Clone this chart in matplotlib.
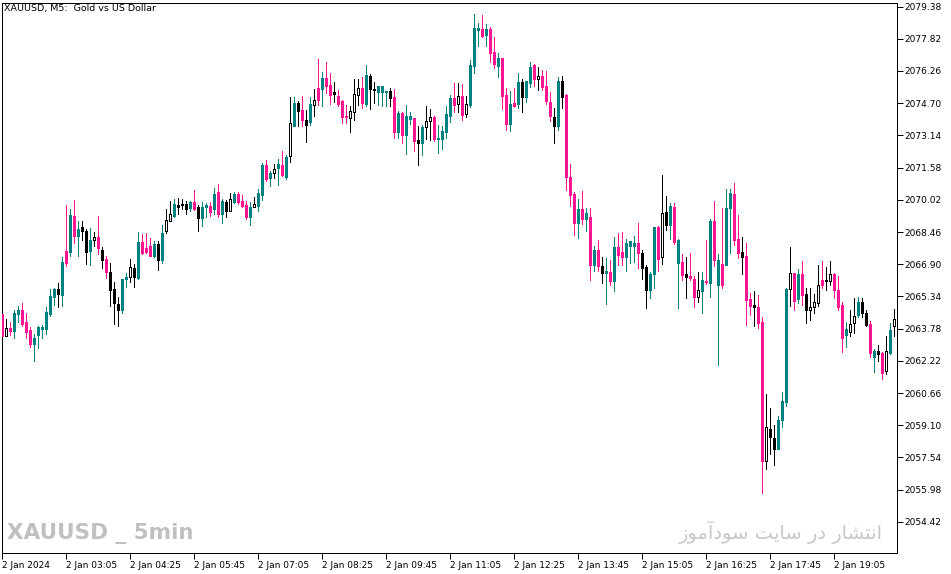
import numpy as np
import matplotlib
matplotlib.use("Agg")
import matplotlib.pyplot as plt

# XAUUSD M5, 2 Jan 2024
opens = [
    2064.49, 2063.40, 2063.83, 2063.69, 2064.49, 2064.66, 2064.11, 2063.72, 2063.04, 2063.45,
    2063.88, 2063.77, 2064.49, 2065.33, 2065.72, 2065.43, 2066.98, 2067.47, 2069.24, 2068.27,
    2068.71, 2068.51, 2067.55, 2068.05, 2068.22, 2067.59, 2067.14, 2066.53, 2065.71, 2064.98,
    2064.66, 2066.16, 2066.27, 2066.72, 2066.24, 2067.98, 2067.47, 2067.79, 2067.32, 2067.88,
    2067.11, 2068.53, 2068.97, 2069.24, 2069.77, 2069.84, 2069.80, 2069.64, 2069.92, 2069.69,
    2069.16, 2069.66, 2069.72, 2069.55, 2070.40, 2069.35, 2069.92, 2069.50, 2069.93, 2070.30,
    2069.97, 2069.76, 2069.21, 2069.69, 2069.72, 2070.27, 2071.71, 2071.06, 2071.34, 2071.56,
    2071.71, 2071.11, 2072.15, 2073.60, 2074.73, 2074.37, 2073.89, 2073.81, 2074.60, 2074.86,
    2075.39, 2075.92, 2075.58, 2075.25, 2075.05, 2074.81, 2074.08, 2074.00, 2074.29, 2075.08,
    2075.44, 2074.68, 2076.02, 2075.39, 2075.26, 2075.26, 2075.26, 2075.28, 2074.99, 2073.28,
    2074.20, 2073.18, 2073.95, 2073.99, 2072.92, 2072.76, 2073.53, 2073.82, 2074.03, 2072.94,
    2072.95, 2073.32, 2074.10, 2074.94, 2074.65, 2075.05, 2074.16, 2074.62, 2076.50, 2078.26,
    2078.30, 2078.01, 2078.30, 2077.18, 2076.52, 2076.89, 2075.10, 2073.71, 2074.71, 2074.68,
    2075.71, 2075.02, 2075.70, 2076.55, 2075.89, 2076.02, 2075.54, 2074.76, 2074.03, 2073.57,
    2075.78, 2075.08, 2071.13, 2070.31, 2068.92, 2069.58, 2069.11, 2069.19, 2066.88, 2067.59,
    2066.82, 2066.49, 2066.53, 2066.11, 2067.75, 2067.48, 2067.25, 2067.80, 2067.80, 2067.93,
    2067.45, 2066.77, 2065.67, 2066.45, 2068.71, 2067.24, 2069.43, 2068.80, 2069.69, 2068.05,
    2067.01, 2066.43, 2066.33, 2066.19, 2065.33, 2065.61, 2066.11, 2066.01, 2069.01, 2067.11,
    2065.87, 2066.87, 2069.61, 2070.31, 2068.13, 2067.48, 2067.32, 2065.20, 2064.91, 2064.83,
    2064.11, 2057.39, 2058.91, 2058.47, 2057.97, 2059.36, 2060.25, 2065.69, 2066.46, 2065.22,
    2066.43, 2065.46, 2064.66, 2064.82, 2065.04, 2065.88, 2066.14, 2066.11, 2066.43, 2065.66,
    2064.93, 2063.48, 2063.64, 2064.06, 2064.45, 2065.07, 2064.56, 2064.01, 2062.43, 2062.69,
    2062.59, 2061.75, 2062.62, 2063.90,
]
highs = [
    2064.56, 2064.24, 2064.11, 2064.66, 2064.88, 2065.04, 2064.56, 2063.88, 2063.53, 2063.93,
    2063.96, 2064.82, 2065.71, 2065.75, 2066.00, 2067.27, 2069.77, 2069.56, 2070.02, 2068.98,
    2068.97, 2068.61, 2068.63, 2068.47, 2069.24, 2067.74, 2067.29, 2066.95, 2066.03, 2065.33,
    2066.19, 2066.46, 2067.16, 2066.93, 2068.47, 2068.35, 2068.39, 2068.19, 2068.03, 2068.04,
    2068.80, 2069.58, 2069.97, 2070.06, 2070.10, 2070.05, 2069.97, 2069.98, 2070.50, 2069.77,
    2069.89, 2069.85, 2069.90, 2070.60, 2070.79, 2070.06, 2070.01, 2070.34, 2070.40, 2070.40,
    2070.24, 2069.97, 2069.93, 2070.14, 2070.56, 2071.82, 2071.95, 2071.42, 2071.73, 2071.98,
    2072.36, 2072.18, 2075.02, 2074.99, 2074.81, 2075.05, 2074.37, 2075.00, 2075.39, 2076.84,
    2076.23, 2076.68, 2076.15, 2075.73, 2075.33, 2074.86, 2074.62, 2074.55, 2075.87, 2075.87,
    2075.96, 2076.55, 2076.12, 2075.71, 2075.54, 2075.54, 2075.29, 2075.44, 2075.39, 2074.33,
    2074.29, 2074.62, 2074.28, 2074.00, 2073.60, 2073.62, 2074.54, 2074.41, 2074.08, 2073.63,
    2073.60, 2074.55, 2075.10, 2075.66, 2075.66, 2075.62, 2075.05, 2076.79, 2079.02, 2078.57,
    2078.97, 2078.54, 2078.41, 2077.91, 2077.12, 2076.89, 2075.42, 2075.29, 2075.42, 2076.15,
    2075.87, 2075.78, 2076.71, 2076.60, 2076.47, 2076.31, 2076.26, 2075.23, 2074.45, 2075.97,
    2076.02, 2075.12, 2071.76, 2070.39, 2070.06, 2070.45, 2069.63, 2069.60, 2067.77, 2068.08,
    2067.25, 2067.21, 2067.11, 2068.24, 2068.40, 2068.46, 2068.13, 2068.03, 2068.27, 2068.90,
    2067.59, 2066.87, 2066.54, 2068.72, 2068.75, 2071.22, 2070.21, 2069.85, 2069.85, 2068.13,
    2067.40, 2067.27, 2067.45, 2066.35, 2066.54, 2066.54, 2068.09, 2069.08, 2069.97, 2067.40,
    2069.64, 2070.55, 2070.55, 2070.85, 2069.29, 2068.24, 2067.92, 2065.49, 2065.61, 2065.41,
    2064.33, 2060.62, 2059.94, 2059.12, 2059.55, 2060.72, 2065.77, 2067.75, 2066.46, 2066.66,
    2067.06, 2065.74, 2065.74, 2065.45, 2066.87, 2067.06, 2066.75, 2067.06, 2066.46, 2066.35,
    2065.09, 2064.12, 2064.69, 2065.27, 2065.33, 2065.24, 2064.69, 2064.17, 2062.77, 2062.98,
    2062.65, 2063.43, 2064.04, 2064.74,
]
lows = [
    2063.36, 2063.40, 2063.48, 2063.35, 2064.08, 2063.93, 2063.32, 2062.91, 2062.19, 2062.82,
    2063.32, 2063.53, 2064.37, 2064.93, 2064.85, 2064.90, 2066.79, 2067.30, 2067.92, 2067.32,
    2068.08, 2066.92, 2066.87, 2067.76, 2067.40, 2066.74, 2066.25, 2064.90, 2064.01, 2063.93,
    2064.56, 2065.80, 2066.03, 2065.80, 2066.16, 2067.38, 2067.43, 2067.32, 2067.27, 2066.62,
    2066.95, 2068.40, 2068.97, 2069.21, 2069.32, 2069.58, 2069.34, 2069.50, 2069.53, 2068.53,
    2068.77, 2069.21, 2069.24, 2069.34, 2069.21, 2068.88, 2069.21, 2069.50, 2069.85, 2069.82,
    2069.66, 2069.11, 2068.80, 2069.69, 2069.50, 2070.01, 2070.95, 2070.71, 2071.08, 2070.76,
    2071.19, 2071.02, 2071.87, 2073.57, 2073.60, 2073.60, 2072.84, 2073.62, 2074.10, 2074.62,
    2074.54, 2075.18, 2074.66, 2074.74, 2074.54, 2073.73, 2073.76, 2073.28, 2073.89, 2074.62,
    2074.45, 2074.54, 2074.42, 2074.73, 2074.62, 2074.58, 2074.58, 2074.57, 2073.03, 2073.03,
    2072.79, 2072.23, 2073.68, 2072.36, 2071.71, 2072.19, 2072.97, 2072.92, 2072.89, 2072.29,
    2072.48, 2073.03, 2073.81, 2074.29, 2074.29, 2073.89, 2074.05, 2074.53, 2076.18, 2077.49,
    2077.92, 2077.49, 2076.67, 2076.42, 2075.99, 2074.42, 2073.40, 2073.36, 2074.49, 2074.45,
    2074.29, 2074.74, 2075.46, 2075.55, 2075.33, 2075.36, 2074.65, 2073.82, 2072.76, 2073.40,
    2074.47, 2070.47, 2069.72, 2068.32, 2068.19, 2068.85, 2068.51, 2066.14, 2066.59, 2066.59,
    2065.99, 2064.96, 2065.90, 2065.58, 2066.87, 2066.87, 2066.59, 2066.95, 2067.03, 2066.71,
    2066.16, 2064.80, 2065.28, 2065.74, 2066.59, 2066.90, 2068.56, 2068.13, 2067.88, 2064.80,
    2066.14, 2065.28, 2066.14, 2064.85, 2065.09, 2064.56, 2065.93, 2065.30, 2066.79, 2062.02,
    2065.77, 2066.87, 2067.43, 2067.83, 2067.19, 2066.43, 2063.95, 2064.45, 2063.93, 2063.83,
    2055.84, 2057.00, 2057.71, 2057.20, 2057.97, 2059.04, 2060.01, 2064.90, 2064.69, 2065.04,
    2064.93, 2064.03, 2064.20, 2064.56, 2064.88, 2065.77, 2065.66, 2065.88, 2065.28, 2064.69,
    2062.65, 2062.91, 2063.44, 2063.57, 2064.36, 2064.36, 2063.91, 2062.41, 2061.70, 2062.23,
    2061.36, 2061.59, 2062.56, 2063.40,
]
closes = [
    2063.43, 2063.83, 2063.69, 2064.56, 2064.69, 2064.01, 2063.64, 2063.04, 2063.35, 2063.88,
    2063.77, 2064.59, 2065.37, 2065.72, 2065.48, 2067.01, 2067.55, 2069.29, 2068.29, 2068.61,
    2068.53, 2067.51, 2068.08, 2068.22, 2067.68, 2067.08, 2066.53, 2065.67, 2065.00, 2064.66,
    2066.16, 2066.29, 2066.75, 2066.27, 2067.98, 2067.45, 2067.69, 2067.32, 2067.88, 2067.11,
    2068.40, 2069.05, 2069.34, 2069.82, 2069.69, 2069.79, 2069.58, 2069.92, 2069.55, 2069.16,
    2069.69, 2069.76, 2069.45, 2070.32, 2069.35, 2069.97, 2069.50, 2070.05, 2070.29, 2069.92,
    2069.72, 2069.19, 2069.68, 2069.82, 2070.34, 2071.71, 2071.02, 2071.31, 2071.52, 2071.73,
    2071.23, 2072.10, 2073.74, 2074.73, 2074.34, 2073.86, 2073.63, 2074.66, 2074.86, 2075.44,
    2075.92, 2075.55, 2075.10, 2075.12, 2074.66, 2074.05, 2074.03, 2074.33, 2075.13, 2075.44,
    2074.73, 2076.04, 2075.37, 2075.33, 2075.54, 2075.54, 2075.29, 2074.97, 2073.28, 2074.20,
    2073.18, 2074.08, 2074.08, 2072.89, 2072.76, 2073.53, 2073.84, 2074.03, 2072.95, 2072.97,
    2073.37, 2074.18, 2074.94, 2074.62, 2075.05, 2074.13, 2074.65, 2076.55, 2078.36, 2078.36,
    2077.97, 2078.30, 2077.15, 2076.60, 2076.89, 2075.07, 2073.71, 2074.66, 2074.57, 2075.71,
    2075.02, 2075.78, 2076.47, 2075.89, 2076.02, 2075.50, 2074.81, 2074.08, 2073.61, 2075.78,
    2075.02, 2071.10, 2070.26, 2068.92, 2069.58, 2069.11, 2069.39, 2066.88, 2067.59, 2066.79,
    2066.49, 2066.58, 2066.11, 2067.75, 2067.37, 2067.25, 2067.93, 2068.03, 2067.93, 2067.42,
    2066.71, 2065.67, 2066.45, 2068.69, 2067.17, 2069.37, 2068.80, 2069.72, 2068.00, 2066.98,
    2066.40, 2066.30, 2066.25, 2065.33, 2065.66, 2066.14, 2066.06, 2069.01, 2067.08, 2065.90,
    2066.92, 2069.63, 2070.35, 2068.08, 2067.43, 2067.25, 2065.17, 2064.90, 2064.85, 2064.03,
    2057.39, 2059.00, 2058.52, 2057.97, 2059.36, 2060.28, 2065.72, 2066.46, 2065.14, 2066.43,
    2065.43, 2064.66, 2064.82, 2065.07, 2065.90, 2066.14, 2066.08, 2066.43, 2065.66, 2064.83,
    2063.35, 2063.77, 2064.01, 2064.40, 2065.07, 2064.56, 2063.98, 2062.62, 2062.70, 2062.57,
    2061.65, 2062.70, 2063.72, 2064.24,
]
# candle colouring: t = teal, p = pink, k = black (bear), w = hollow (bull)
kinds = ("pwpttppptt" "ttttktptpt" "kktwpkpkkk" "ttwktppptk" "twwtkkktpk"
         "ttptptkwtp" "pptwttptwt" "ptwtkpktwp" "tppkpppwww" "ptkktttkpt"
         "pttpktwwpt" "tttpwpwttt" "ptpptpptpt" "kttpwpppkt" "kppptptptp"
         "ktptpptttp" "kkttpwktpt" "pkppwtptpt" "pttppkppkp" "pwkktttwpt"
         "pkwwwpkwpp" "ptwwtkkptk" "pwtw")

time_ticks = [0, 16, 32, 48, 64, 80, 96, 112, 128, 144, 160, 176, 192, 208]
time_labels = ["2 Jan 2024", "2 Jan 03:05", "2 Jan 04:25", "2 Jan 05:45",
               "2 Jan 07:05", "2 Jan 08:25", "2 Jan 09:45", "2 Jan 11:05",
               "2 Jan 12:25", "2 Jan 13:45", "2 Jan 15:05", "2 Jan 16:25",
               "2 Jan 17:45", "2 Jan 19:05"]
price_ticks = [2079.38, 2077.82, 2076.26, 2074.70, 2073.14, 2071.58, 2070.02,
               2068.46, 2066.90, 2065.34, 2063.78, 2062.22, 2060.66, 2059.10,
               2057.54, 2055.98, 2054.42]

TEAL = "#008080"
PINK = "#ff1493"
face_map = {"t": TEAL, "p": PINK, "k": "black", "w": "white"}
edge_map = {"t": TEAL, "p": PINK, "k": "black", "w": "black"}

o = np.array(opens)
h = np.array(highs)
l = np.array(lows)
c = np.array(closes)
x = np.arange(len(o))
faces = [face_map[k] for k in kinds]
edges = [edge_map[k] for k in kinds]

W, H = 951, 574
fig = plt.figure(figsize=(W / 100, H / 100), dpi=100)
ax = fig.add_axes([2 / W, 21 / H, 895 / W, 550 / H])

lw = 0.72
ax.vlines(x, l, h, colors=edges, linewidth=lw, antialiased=False, zorder=2)
bottom = np.minimum(o, c)
height = np.maximum(np.abs(c - o), 0.05)
ax.bar(x, height, width=0.5, bottom=bottom, color=faces, edgecolor=edges,
       linewidth=lw, antialiased=False, zorder=3)

ax.set_xlim(-0.075, 223.675)
ax.set_ylim(2052.915, 2079.55)

ax.yaxis.tick_right()
ax.set_yticks(price_ticks)
ax.set_yticklabels(["%.2f" % p for p in price_ticks])
ax.set_xticks(time_ticks)
ax.set_xticklabels(time_labels, ha="left")
ax.tick_params(axis="both", direction="out", length=4, width=lw, labelsize=6.5,
               colors="black", pad=2)
ax.tick_params(axis="y", pad=1)
for s in ax.spines.values():
    s.set_linewidth(lw)
    s.set_color("black")

fig.text(4 / W, 1 - 9 / H, "XAUUSD, M5:  Gold vs US Dollar", fontsize=6.8,
         va="center", ha="left")

fig.text(7 / W, 1 - 534 / H, "XAUUSD _ 5min", fontsize=15.5, fontweight="bold",
         family=["DejaVu Sans"], color="#c0c0c0", va="center", ha="left")

# Persian watermark in presentation forms, visual order
fa_text = ("\ufeaf\ufeee\ufee3\ufe81\ufea9\ufeee\ufeb3 \ufe96\ufef3\ufe8e\ufeb3 "
           "\ufead\ufea9 \ufead\ufe8e\ufeb8\ufe98\ufee7\ufe8d")
fig.text(883 / W, 1 - 532 / H, fa_text, fontsize=14, family=["DejaVu Sans"],
         color="#c8c8c8", va="center", ha="right")

fig.savefig("out.png", dpi=100)
